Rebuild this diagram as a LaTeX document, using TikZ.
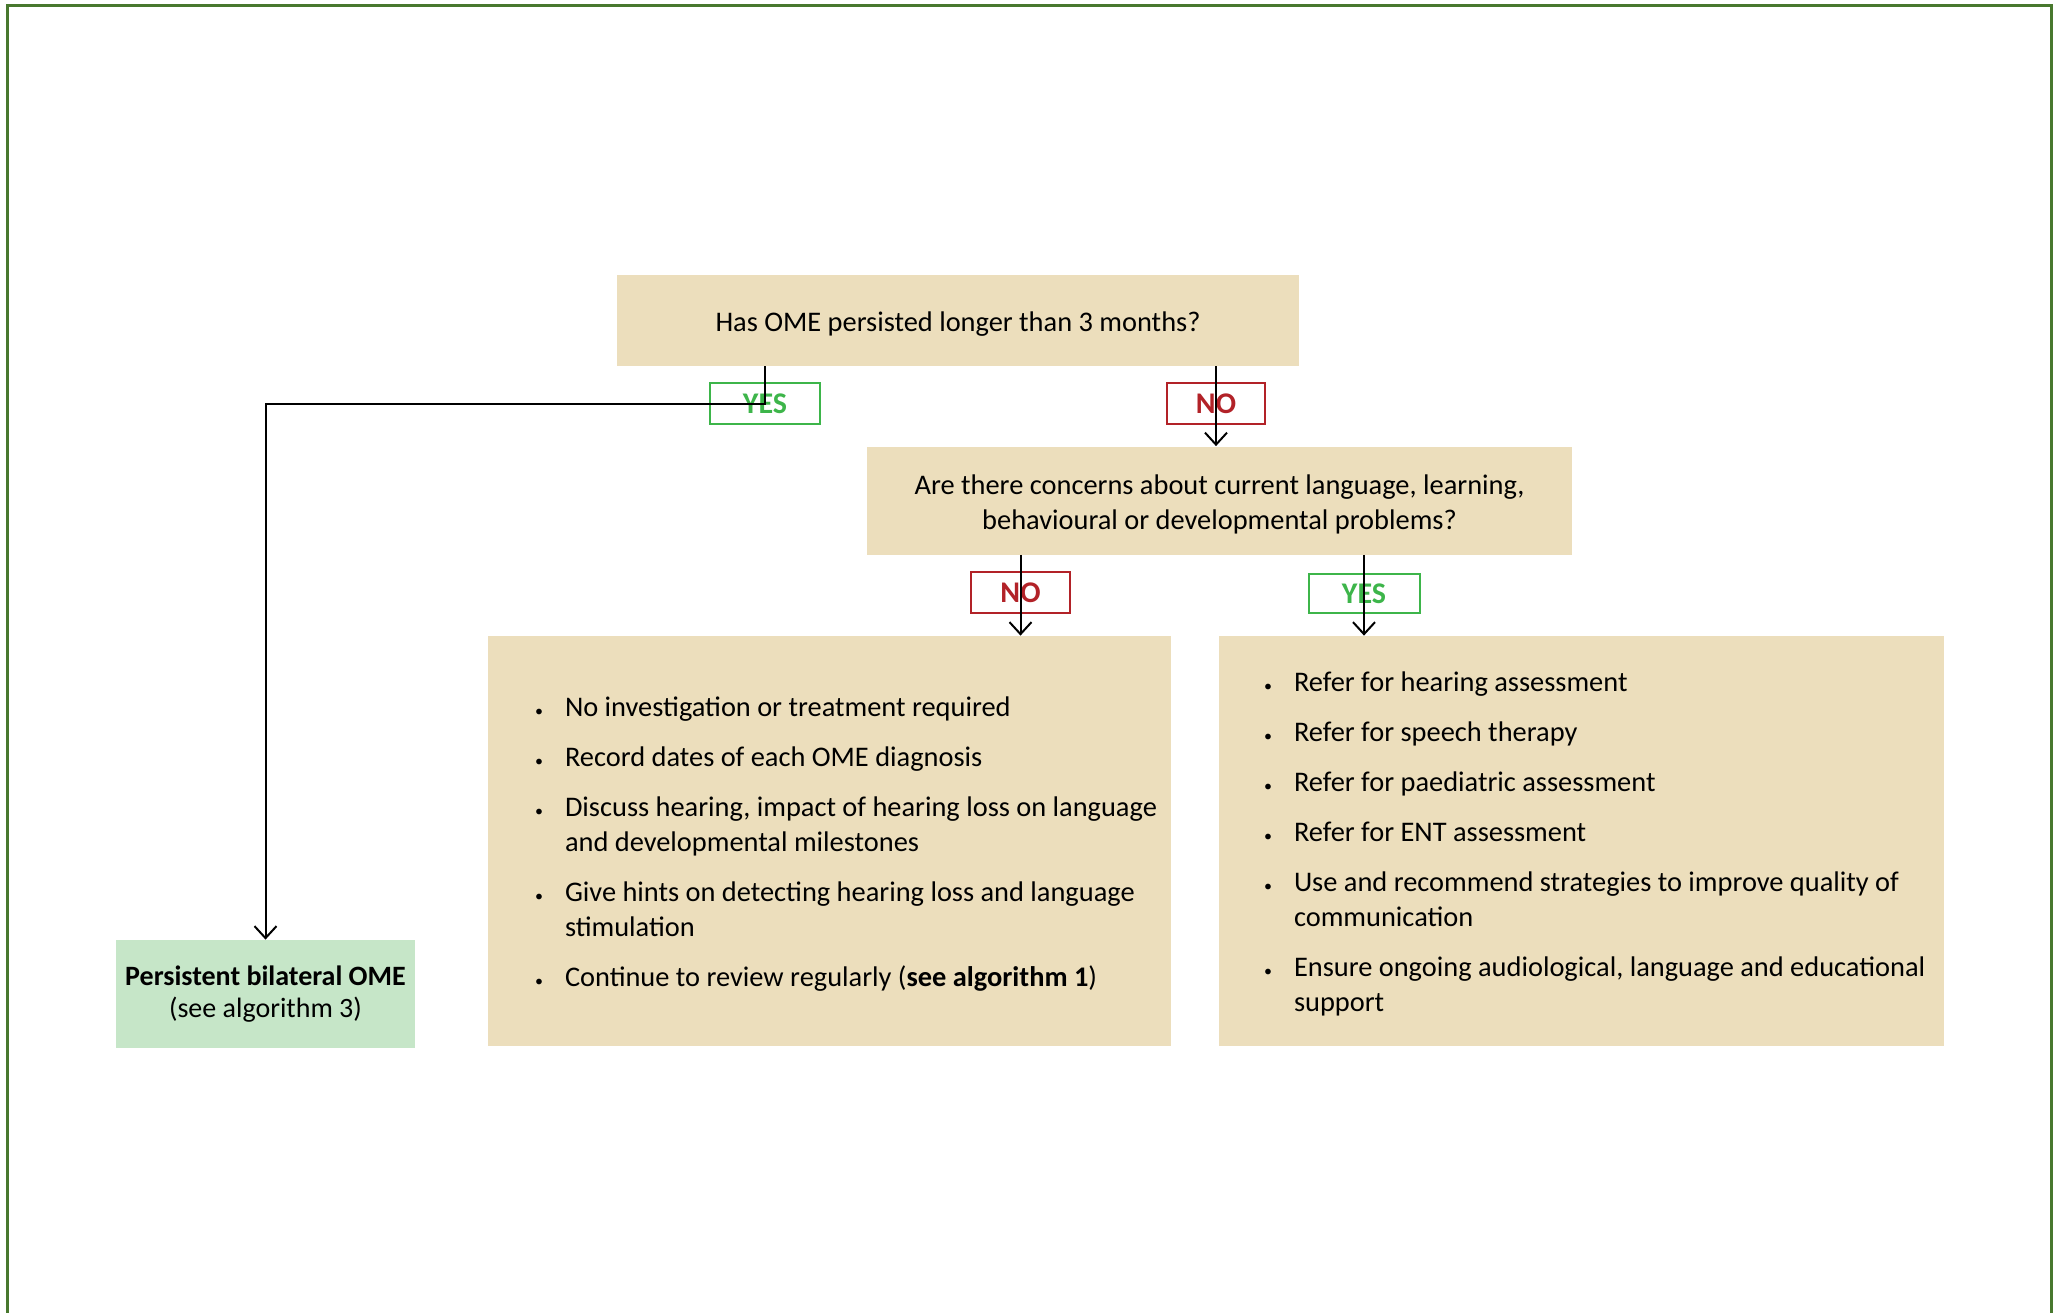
\documentclass[tikz,border=0pt]{standalone}
\usepackage{fontspec}
\setmainfont{Carlito}
\usetikzlibrary{arrows.meta}
\definecolor{beige}{RGB}{236,222,188}
\definecolor{mint}{RGB}{198,230,200}
\definecolor{ygreen}{RGB}{61,181,74}
\definecolor{nred}{RGB}{178,34,40}
\definecolor{framegreen}{RGB}{72,120,46}
\newenvironment{blist}{\spaceskip=0pt\xspaceskip=0pt\relax\begin{list}{\footnotesize•}{\setlength{\leftmargin}{15pt}\setlength{\labelwidth}{4pt}\setlength{\labelsep}{11pt}\setlength{\itemsep}{7.5pt}\setlength{\parsep}{0pt}\setlength{\topsep}{0pt}\setlength{\partopsep}{0pt}}\spaceskip=0pt\xspaceskip=0pt\relax}{\end{list}}
\newcommand{\lowertext}[1]{\raisebox{-2pt}[\height][\depth]{#1}}
\begin{document}
\begin{tikzpicture}[x=0.5pt,y=-0.5pt,
  basefont/.style={font=\fontsize{14.2}{17.5}\selectfont},
  qbox/.style={basefont,rectangle,fill=beige,inner sep=0pt,align=center},
  listbox/.style={rectangle,fill=beige,inner sep=0pt},
  listtext/.style={basefont,inner sep=0pt,text width=340pt,anchor=west,align=left},
  yeslab/.style={draw=ygreen,line width=1pt,text=ygreen,inner sep=0pt,font=\fontsize{15}{17}\selectfont\bfseries},
  nolab/.style={draw=nred,line width=1pt,text=nred,inner sep=0pt,font=\fontsize{15}{17}\selectfont\bfseries},
  conn/.style={draw=black,line width=1pt},
  arr/.style={conn,-{Straight Barb[length=6pt,width=11pt,line width=1pt]}}
]
\useasboundingbox (0,0) rectangle (2058,1313);
\fill[white] (0,0) rectangle (2058,1313);
\draw[framegreen,line width=1.5pt] (7,1320) -- (7,5) -- (2051,5) -- (2051,1320);

% boxes
\node[qbox,minimum width=341pt,minimum height=45.5pt] (q1) at (958,320.5) {\lowertext{Has OME persisted longer than 3 months?}};
\node[qbox,minimum width=352.5pt,minimum height=54pt] (q2) at (1219.5,500.5) {\lowertext{\begin{tabular}{@{}c@{}}Are there concerns about current language, learning,\\behavioural or developmental problems?\end{tabular}}};
\node[listbox,minimum width=341.5pt,minimum height=205pt] (b3) at (829.5,841) {};
\node[listbox,minimum width=362.5pt,minimum height=205pt] (b4) at (1581.5,841) {};
\node[rectangle,fill=mint,inner sep=0pt,minimum width=149.5pt,minimum height=54pt,align=center,
      font=\fontsize{14}{16}\selectfont] (p) at (265.5,994)
      {\textbf{Persistent bilateral OME}\\(see algorithm 3)};

% list texts
\node[listtext] (l3) at ([xshift=23.5pt,yshift=2.5pt]b3.west) {%
\begin{blist}
\item No investigation or treatment required
\item Record dates of each OME diagnosis
\item Discuss hearing, impact of hearing loss on language\\and developmental milestones
\item Give hints on detecting hearing loss and language\\stimulation
\item Continue to review regularly (\textbf{see algorithm 1})
\end{blist}};
\node[listtext] (l4) at ([xshift=22.5pt,yshift=2.5pt]b4.west) {%
\begin{blist}
\item Refer for hearing assessment
\item Refer for speech therapy
\item Refer for paediatric assessment
\item Refer for ENT assessment
\item Use and recommend strategies to improve quality of\\communication
\item Ensure ongoing audiological, language and educational\\support
\end{blist}};

% labels
\node[yeslab,minimum width=55pt,minimum height=20.5pt] (yes1) at (765,403.5) {YES};
\node[nolab,minimum width=49pt,minimum height=20.5pt] (no1) at (1216,403.5) {NO};
\node[nolab,minimum width=49.5pt,minimum height=20.5pt] (no2) at (1020.5,592.5) {NO};
\node[yeslab,minimum width=55.5pt,minimum height=19.5pt] (yes2) at (1364,593.5) {YES};

% connectors
\draw[arr] (yes1 |- q1.south) -- (yes1.center) -| (p.north);
\draw[arr] (no1 |- q1.south) -- (no1 |- q2.north);
\draw[arr] (no2 |- q2.south) -- (no2 |- b3.north);
\draw[arr] (yes2 |- q2.south) -- (yes2 |- b4.north);
\end{tikzpicture}
\end{document}
